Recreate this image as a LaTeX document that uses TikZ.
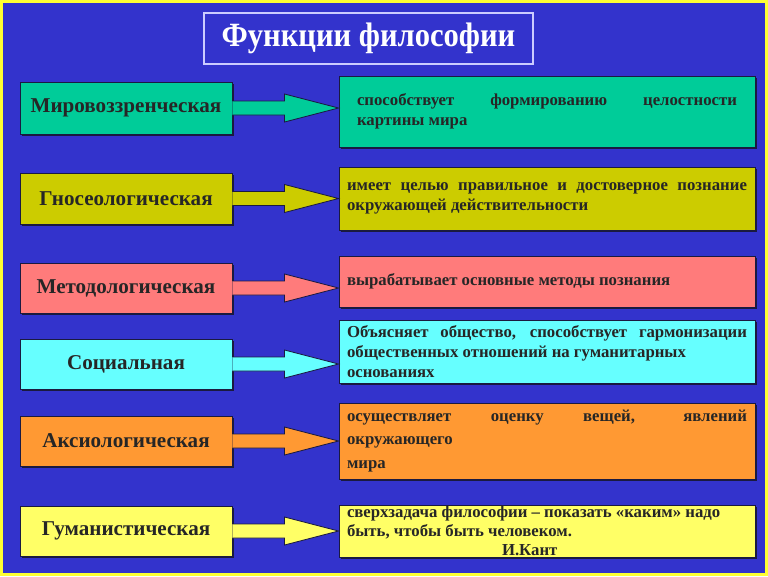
\documentclass[tikz,border=0pt]{standalone}
\usepackage{fontspec}
\setmainfont{Liberation Serif}
\newfontfamily\titlefont[FakeStretch=0.9]{Liberation Serif}
\usetikzlibrary{calc,shadows}

\definecolor{bgblue}{HTML}{3333CC}
\definecolor{frame}{HTML}{FFFF33}
\definecolor{edge}{HTML}{1A1A40}
\definecolor{cMir}{HTML}{00CC99}
\definecolor{cGno}{HTML}{CCCC00}
\definecolor{cMet}{HTML}{FF7B7B}
\definecolor{cSoc}{HTML}{66FFFF}
\definecolor{cAks}{HTML}{FF9933}
\definecolor{cGum}{HTML}{FFFF66}

\newcommand\pix{0.03cm}

\tikzset{
  funcbox/.style={draw=edge, line width=0.8pt, fill=#1, minimum width=212*\pix,
    minimum height=50*\pix, inner sep=0pt, text=black!85,
    font=\fontsize{18}{20}\selectfont\bfseries,
    drop shadow={shadow xshift=1.6pt, shadow yshift=-1.6pt, fill=edge, opacity=1}},
  textbox/.style={draw=edge, line width=0.8pt, fill=#1, minimum width=416*\pix,
    inner xsep=0pt, inner ysep=0pt, text width=400*\pix, align=justify, text=black!85,
    font=\fontsize{14.3}{17}\selectfont\bfseries,
    drop shadow={shadow xshift=1.6pt, shadow yshift=-1.6pt, fill=edge, opacity=1}},
  fatarrow/.style={draw=edge, line width=0.7pt, fill=#1, line join=miter}
}

\begin{document}
\begin{tikzpicture}[x=\pix,y=-\pix]
  % background and frame
  \fill[frame] (0,0) rectangle (768,576);
  \fill[bgblue] (3,3) rectangle (765,573);
  \useasboundingbox (0,0) rectangle (768,576);

  % title
  \node[draw=blue!20, line width=1.2pt, minimum width=329*\pix, minimum height=51*\pix,
    text=white, font=\titlefont\fontsize{29}{32}\selectfont\bfseries] (title) at (368.5,38.5)
    {Функции философии};

  % functions
  \node[funcbox=cMir, minimum height=52*\pix] (mir) at (126,108) {Мировоззренческая};
  \node[funcbox=cGno, minimum height=51*\pix] (gno) at (126,198.5) {Гносеологическая};
  \node[funcbox=cMet] (met) at (126,288) {Методологическая};
  \node[funcbox=cSoc] (soc) at (126,364) {Социальная};
  \node[funcbox=cAks] (aks) at (126,441) {Аксиологическая};
  \node[funcbox=cGum] (gum) at (126,531) {Гуманистическая};

  % descriptions
  \node[textbox=cMir, minimum height=71*\pix, text width=380*\pix] (mirtext) at (547,111.5)
    {способствует формированию целостности\linebreak картины мира};
  \node[textbox=cGno, minimum height=63*\pix] (gnotext) at (547,198.5)
    {имеет целью правильное и достоверное познание\linebreak окружающей действительности};
  \node[textbox=cMet, minimum height=51*\pix] (mettext) at (547,281.5)
    {вырабатывает основные методы познания};
  \node[textbox=cSoc, minimum height=63*\pix] (soctext) at (547,351.5)
    {Объясняет общество, способствует гармонизации\linebreak общественных отношений на гуманитарных\\ основаниях};
  \node[textbox=cAks, minimum height=76*\pix, font=\fontsize{14.3}{20}\selectfont\bfseries] (akstext) at (547,441)
    {осуществляет оценку вещей, явлений\linebreak окружающего\\ мира};
  \node[textbox=cGum, minimum height=52*\pix, font=\fontsize{14.3}{16}\selectfont\bfseries] (gumtext) at (547,531)
    {сверхзадача философии -- показать «каким» надо\\ быть, чтобы быть человеком.\\ \hspace*{4.65cm}И.Кант};

  % arrows
  \foreach \from/\to/\col in {mir/mirtext/cMir, gno/gnotext/cGno, met/mettext/cMet,
      soc/soctext/cSoc, aks/akstext/cAks, gum/gumtext/cGum} {
    \coordinate (tip) at (\to.west |- \from.east);
    \draw[fatarrow=\col] ($(\from.east)+(0,-7)$) -- ($(tip)+(-54,-7)$) -- ($(tip)+(-54,-14)$)
      -- (tip) -- ($(tip)+(-54,14)$) -- ($(tip)+(-54,7)$) -- ($(\from.east)+(0,7)$);
  }
\end{tikzpicture}
\end{document}
